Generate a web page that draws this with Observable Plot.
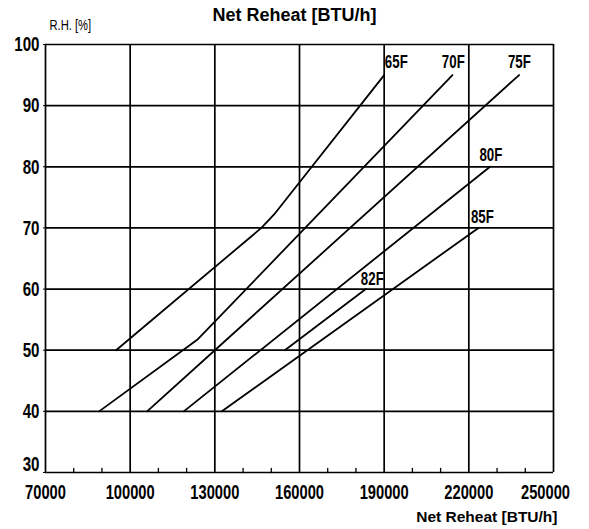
<!DOCTYPE html>
<html>
<head>
<meta charset="utf-8">
<script src="https://cdn.jsdelivr.net/npm/d3@7"></script>
<script src="https://cdn.jsdelivr.net/npm/@observablehq/plot@0.6"></script>
<style>
  html, body { margin: 0; padding: 0; background: #fff; }
</style>
</head>
<body>
<div id="chart"></div>
<script>
// ---- data ----
const series = ["65F", "70F", "75F", "80F", "82F", "85F"];
const reheat65 = [95000, 146500, 151000, 190000];
const rh65     = [50, 70, 72.2, 95];
const reheat70 = [89000, 124000, 214200];
const rh70     = [40, 51.8, 95];
const reheat75 = [106000, 130000, 237800];
const rh75     = [40, 50, 95];
const reheat80 = [119000, 227500];
const rh80     = [40, 80];
const reheat82 = [154800, 183500];
const rh82     = [50, 60];
const reheat85 = [132500, 223400];
const rh85     = [40, 70];

// curve label anchors (data units)
const labelReheat = [194300, 214500, 237900, 227800, 185800, 224800];
const labelRH     = [97.1, 97.1, 97.1, 81.9, 61.6, 71.8];

const xTickValues = [70000, 100000, 130000, 160000, 190000, 220000, 250000];
const xMinorTicks = [80000, 90000, 110000, 120000, 140000, 150000, 170000, 180000, 200000, 210000, 230000, 240000];
const yTickValues = [30, 40, 50, 60, 70, 80, 90, 100];

const titleText = "Net Reheat [BTU/h]";
const xLabelText = "Net Reheat [BTU/h]";
const yLabelText = "R.H. [%]";

// ---- build table ----
const xs = [reheat65, reheat70, reheat75, reheat80, reheat82, reheat85];
const ys = [rh65, rh70, rh75, rh80, rh82, rh85];
const rows = [];
series.forEach((s, i) => xs[i].forEach((x, j) => rows.push({series: s, x, y: ys[i][j]})));
const labels = series.map((s, i) => ({series: s, x: labelReheat[i], y: labelRH[i]}));

const FONT = "Liberation Sans, Arial, Helvetica, sans-serif";
const tickShape = {draw(context, l) { context.moveTo(0, 0); context.lineTo(0, -l); }};
const xLast = xTickValues[xTickValues.length - 1];
const yFirst = yTickValues[0];
const tickFont = {fontSize: 21, fontWeight: "bold", label: null};

const svg = Plot.plot({
  width: 589,
  height: 529,
  marginLeft: 45,
  marginRight: 36,
  marginTop: 44,
  marginBottom: 57,
  style: {background: "white", color: "black", fontFamily: FONT},
  x: {domain: [70000, 250000]},
  y: {domain: [30, 100]},
  marks: [
    Plot.ruleX(xTickValues, {stroke: "black", strokeWidth: 1.7}),
    Plot.ruleY(yTickValues, {stroke: "black", strokeWidth: 1.7}),
    Plot.vector(xMinorTicks, {x: d => d, frameAnchor: "bottom", length: 4, rotate: 0, anchor: "start", shape: tickShape, stroke: "black", strokeWidth: 1.3}),
    Plot.line(rows, {x: "x", y: "y", z: "series", stroke: "black", strokeWidth: 1.8, strokeLinejoin: "round"}),
    Plot.text(labels, {x: "x", y: "y", text: "series", fontSize: 17.5, fontWeight: "bold", fill: "black", ariaLabel: () => "curve label"}),
    Plot.axisX({ticks: xTickValues, tickSize: 0, tickPadding: 12, ...tickFont, tickFormat: d => d === xLast ? "" : String(d)}),
    Plot.axisX({ticks: [xLast], tickSize: 0, tickPadding: 12, dx: -8, ...tickFont, tickFormat: d => String(d)}),
    Plot.axisY({ticks: yTickValues, tickSize: 2, tickPadding: 4, ...tickFont, tickFormat: d => d === yFirst ? "" : String(d)}),
    Plot.axisY({ticks: [yFirst], tickSize: 0, tickPadding: 6, dy: -8, ...tickFont, tickFormat: d => String(d)}),
    Plot.text([titleText], {frameAnchor: "top", dx: -5, dy: -29, fontSize: 18, fontWeight: "bold", lineAnchor: "middle"}),
    Plot.text([yLabelText], {frameAnchor: "top-left", textAnchor: "start", dx: 4, dy: -19, fontSize: 14, lineAnchor: "middle", ariaLabel: () => "y label"}),
    Plot.text([xLabelText], {frameAnchor: "bottom-right", textAnchor: "end", dx: 4, dy: 45, fontSize: 15.5, fontWeight: "bold", lineAnchor: "middle"})
  ]
});

function squeeze(sel, k) {
  svg.querySelectorAll(sel).forEach(t => {
    t.setAttribute("transform", (t.getAttribute("transform") || "") + ` scale(${k},1)`);
  });
}
squeeze('g[aria-label="x-axis tick label"] text', 0.70);
squeeze('g[aria-label="y-axis tick label"] text', 0.72);
squeeze('text[aria-label="curve label"], g[aria-label="curve label"] text', 0.76);
squeeze('text[aria-label="y label"], g[aria-label="y label"] text', 0.8);

document.getElementById("chart").appendChild(svg);
</script>
</body>
</html>
